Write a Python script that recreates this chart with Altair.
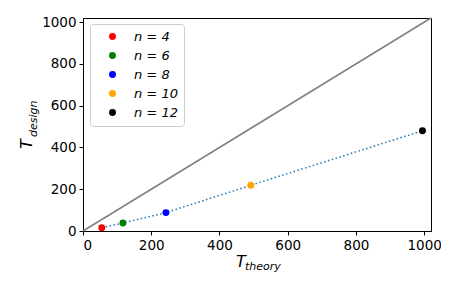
import altair as alt
import pandas as pd

labels = ["n = 4", "n = 6", "n = 8", "n = 10", "n = 12"]
colors = ["red", "green", "blue", "orange", "black"]
t_theory = [55, 117, 243, 492, 995]
t_design = [16, 38, 88, 219, 480]
diag_x = [0, 1020]
diag_y = [0, 1020]
x_ticks = [0, 200, 400, 600, 800, 1000]
y_ticks = [0, 200, 400, 600, 800, 1000]

df = pd.DataFrame({"theory": t_theory, "design": t_design, "label": labels})
diag = pd.DataFrame({"theory": diag_x, "design": diag_y})

xs = alt.Scale(domain=[0, 1020], nice=False, zero=False)
ys = alt.Scale(domain=[0, 1020], nice=False, zero=False)

xax = alt.Axis(values=x_ticks, format="d", title=None, grid=False, labelFontSize=13.5, tickSize=4,
               domainColor="black", tickColor="black", labelColor="black", labelPadding=3)
yax = alt.Axis(values=y_ticks, format="d", title=None, grid=False, labelFontSize=13.5, tickSize=4,
               domainColor="black", tickColor="black", labelColor="black", labelPadding=3)

line_diag = alt.Chart(diag).mark_line(color="gray", strokeWidth=1.5).encode(
    x=alt.X("theory:Q", scale=xs, axis=xax),
    y=alt.Y("design:Q", scale=ys, axis=yax),
)

dotted = alt.Chart(df).mark_line(color="#1f77b4", strokeWidth=1.5, strokeDash=[1.5, 2.5]).encode(
    x=alt.X("theory:Q", scale=xs),
    y=alt.Y("design:Q", scale=ys),
    order="theory:Q",
)

points = alt.Chart(df).mark_circle(size=48, opacity=1).encode(
    x=alt.X("theory:Q", scale=xs),
    y=alt.Y("design:Q", scale=ys),
    color=alt.Color("label:N", scale=alt.Scale(domain=labels, range=colors),
                    legend=alt.Legend(title=None, orient="none", legendX=7, legendY=6,
                                      fillColor="white", strokeColor="#cccccc", cornerRadius=3,
                                      padding=6, labelFontSize=13, labelFontStyle="italic",
                                      symbolSize=48, symbolType="circle", labelOffset=15,
                                      rowPadding=5, symbolOffset=10, labelColor="black")),
)

def txt(s, x, y, size, angle=0, baseline="alphabetic"):
    return alt.Chart(pd.DataFrame({"t": [s]})).mark_text(
        text=s, fontSize=size, fontStyle="italic", align="left", baseline=baseline,
        angle=angle, color="black", font="DejaVu Sans"
    ).encode(x=alt.value(x), y=alt.value(y))

titles = [
    txt("T", 153, 249, 16),
    txt("theory", 162, 252, 11),
    txt("T", -51, 131, 16, angle=270),
    txt("design", -46, 119, 11, angle=270),
]

chart = alt.layer(line_diag, dotted, points, *titles).properties(
    width=348, height=213,
    autosize=alt.AutoSizeParams(type="none"),
    padding={"left": 75, "top": 10, "right": 10, "bottom": 45},
).configure(font="DejaVu Sans").configure_view(stroke="black", strokeWidth=1)

chart.save("out.html", embed_options={"renderer": "svg", "actions": False})
